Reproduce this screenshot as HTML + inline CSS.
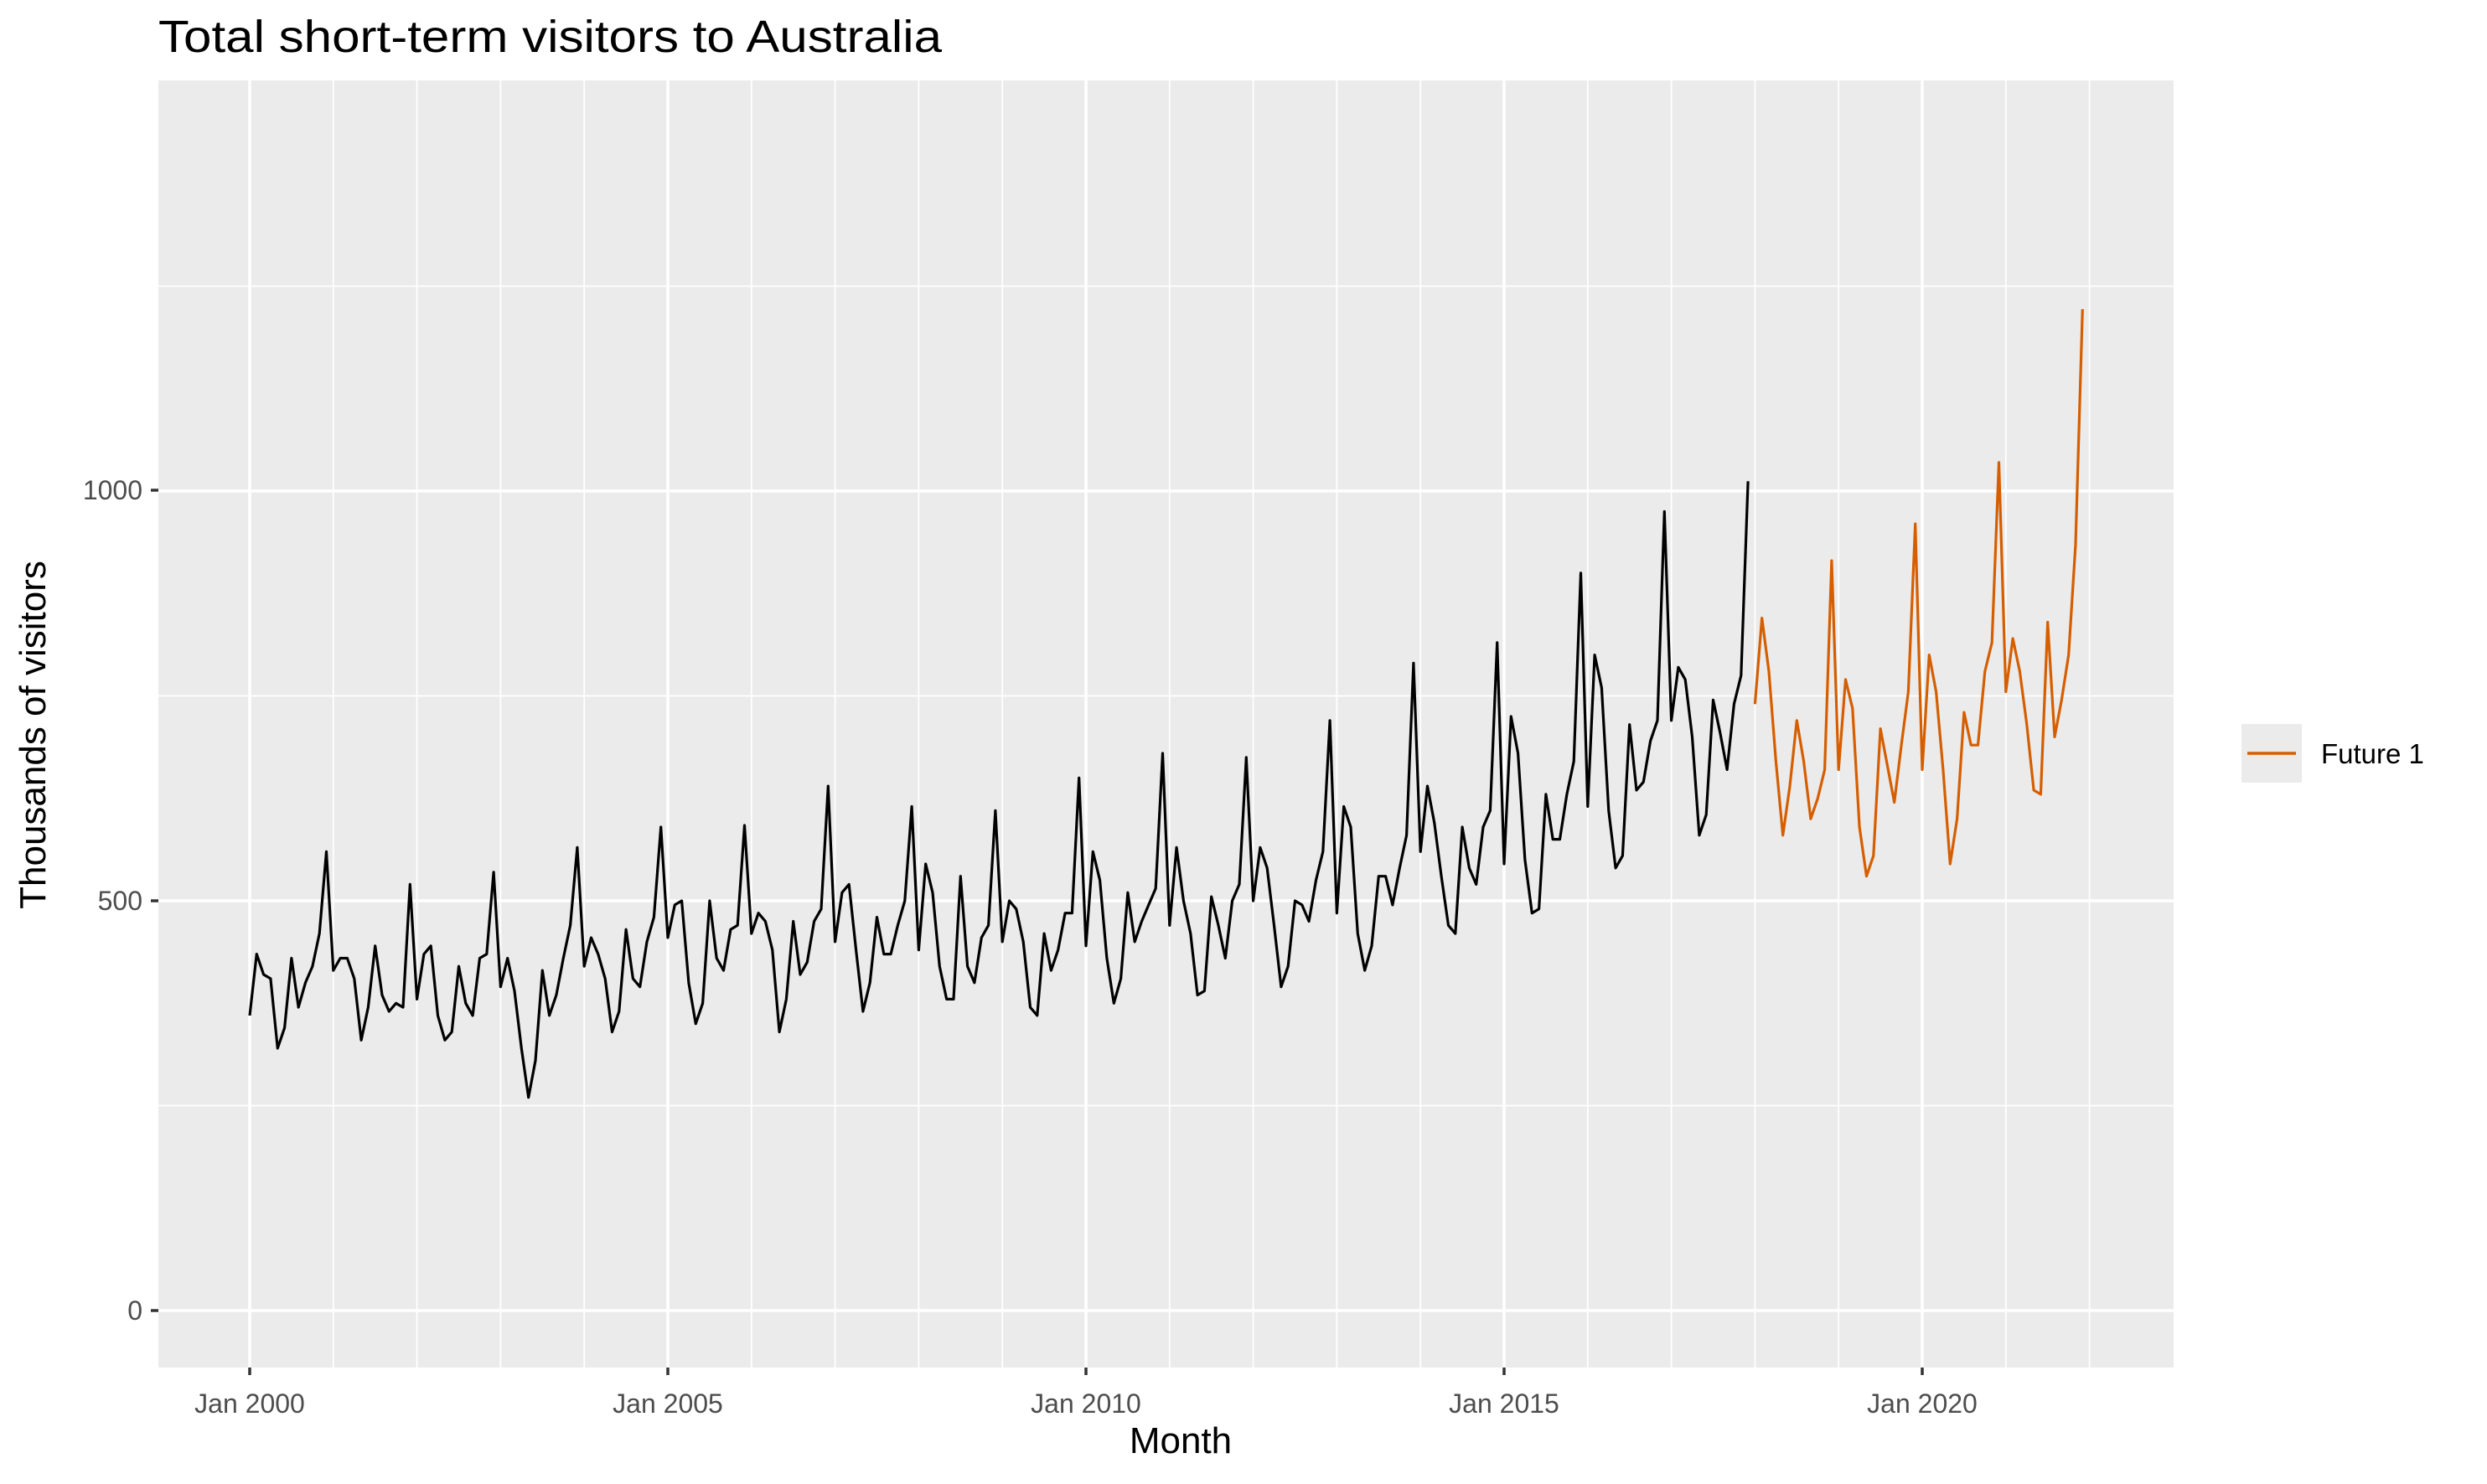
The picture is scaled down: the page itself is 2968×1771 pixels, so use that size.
<!DOCTYPE html>
<html><head><meta charset="utf-8"><style>
html,body{margin:0;padding:0;background:#fff;}
svg{display:block;font-family:"Liberation Sans",sans-serif;}
</style></head><body>
<svg id="s" width="2968" height="1771" viewBox="0 0 2968 1771" xmlns="http://www.w3.org/2000/svg">
<rect x="0" y="0" width="2968" height="1771" fill="#fff"/>
<text x="189" y="62" font-size="54" fill="#000" textLength="935" lengthAdjust="spacingAndGlyphs">Total short-term visitors to Australia</text>
<rect x="189" y="96" width="2405" height="1536" fill="#ebebeb"/>
<g id="grid"></g>
<g id="lines"></g>
<g fill="#4d4d4d" font-size="32">
<text x="170" y="1575" text-anchor="end">0</text>
<text x="170" y="1086" text-anchor="end">500</text>
<text x="170" y="596" text-anchor="end">1000</text>
<text x="298" y="1686" text-anchor="middle">Jan 2000</text>
<text x="797" y="1686" text-anchor="middle">Jan 2005</text>
<text x="1296" y="1686" text-anchor="middle">Jan 2010</text>
<text x="1795" y="1686" text-anchor="middle">Jan 2015</text>
<text x="2294" y="1686" text-anchor="middle">Jan 2020</text>
</g>
<g stroke="#333" stroke-width="3.5">
<line x1="180" y1="1564" x2="189" y2="1564"/><line x1="180" y1="1075" x2="189" y2="1075"/><line x1="180" y1="585" x2="189" y2="585"/>
<line x1="298" y1="1632" x2="298" y2="1641"/><line x1="797" y1="1632" x2="797" y2="1641"/><line x1="1296" y1="1632" x2="1296" y2="1641"/><line x1="1795" y1="1632" x2="1795" y2="1641"/><line x1="2294" y1="1632" x2="2294" y2="1641"/>
</g>
<text x="1409" y="1734" text-anchor="middle" font-size="44" fill="#000">Month</text>
<text transform="translate(54,877) rotate(-90)" text-anchor="middle" font-size="44" fill="#000">Thousands of visitors</text>
<rect x="2675" y="864" width="72" height="70" fill="#ebebeb"/>
<line x1="2682" y1="899" x2="2740" y2="899" stroke="#d55e00" stroke-width="3.5"/>
<text x="2770" y="911" font-size="33" fill="#000">Future 1</text>
</svg>
<script>
var D=[360,435,410,405,320,345,430,370,400,420,460,560,
415,430,430,405,330,370,445,385,365,375,370,520,
380,435,445,360,330,340,420,375,360,430,435,535,
395,430,390,320,260,305,415,360,385,430,470,565,
420,455,435,405,340,365,465,405,395,450,480,590,
455,495,500,400,350,375,500,430,415,465,470,592,
460,485,475,440,340,380,475,410,425,475,490,640,
450,510,520,440,365,400,480,435,435,470,500,615,
440,545,510,420,380,380,530,420,400,455,470,610,
450,500,490,450,370,360,460,415,440,485,485,650,
445,560,525,430,375,405,510,450,475,495,515,680,
470,565,500,460,385,390,505,470,430,500,520,675,
500,565,540,470,395,420,500,495,475,525,560,720,
485,615,590,460,415,445,530,530,495,540,580,790,
560,640,595,530,470,460,590,540,520,590,610,815,
545,725,680,550,485,490,630,575,575,630,670,900,
615,800,760,610,540,555,715,635,645,695,720,975,
720,785,770,700,580,605,745,705,660,740,775,1012];
var F=[740,845,780,670,580,640,720,670,600,625,660,915,
660,770,735,590,530,555,710,665,620,690,755,960,
660,800,755,660,545,600,730,690,690,780,815,1035,
755,820,780,715,635,630,840,700,745,800,935,1222];
function X(m){return 298+m*99.8/12;}function Y(v){return 1564-v*0.978;}
var g='';
[250,750,1250].forEach(function(v){g+='<line x1="189" x2="2594" y1="'+Y(v)+'" y2="'+Y(v)+'" stroke="#fff" stroke-width="1.8"/>';});
[0,500,1000].forEach(function(v){g+='<line x1="189" x2="2594" y1="'+Y(v)+'" y2="'+Y(v)+'" stroke="#fff" stroke-width="3.6"/>';});
for(var yr=0;yr<=22;yr++){var x=X(yr*12);var maj=yr%5==0;g+='<line y1="96" y2="1632" x1="'+x+'" x2="'+x+'" stroke="#fff" stroke-width="'+(maj?3.6:1.8)+'"/>';}
document.getElementById('grid').innerHTML=g;
function P(a,o){return a.map(function(v,i){return X(i+o).toFixed(1)+','+Y(v).toFixed(1);}).join(' ');}
document.getElementById('lines').innerHTML='<polyline fill="none" stroke="#000" stroke-width="3.2" stroke-linejoin="round" points="'+P(D,0)+'"/><polyline fill="none" stroke="#d55e00" stroke-width="3.2" stroke-linejoin="round" points="'+P(F,216)+'"/>';
</script>
</body></html>
